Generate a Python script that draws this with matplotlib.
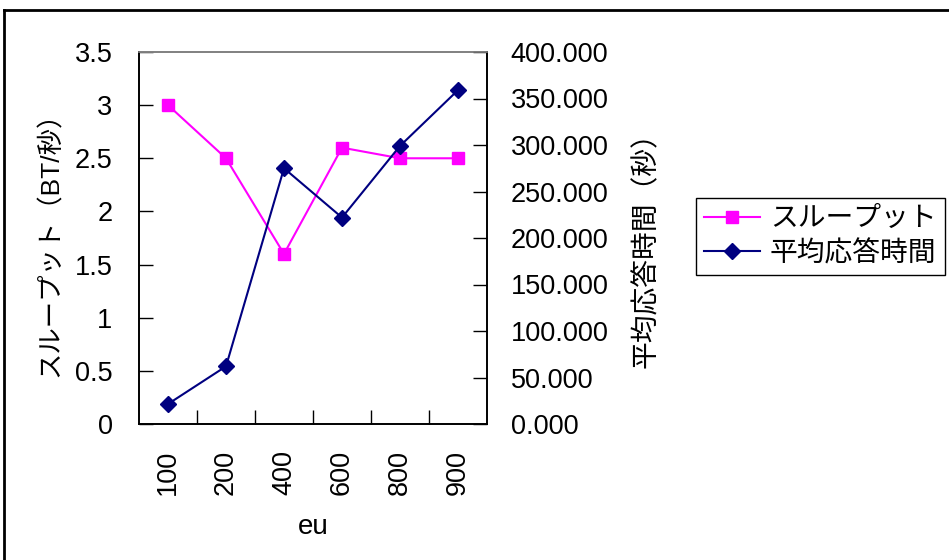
import matplotlib
matplotlib.use('Agg')
import matplotlib.pyplot as plt
from matplotlib.lines import Line2D
from matplotlib.ticker import FixedLocator, NullFormatter, FormatStrFormatter

plt.rcParams['font.family'] = ['Liberation Sans', 'Noto Sans CJK JP', 'DejaVu Sans']

# measurements per eu setting
eu_labels = ['100', '200', '400', '600', '800', '900']
throughput = [3.0, 2.5, 1.6, 2.6, 2.5, 2.5]          # BT/sec
resp_time = [21.5, 62.0, 275.0, 222.0, 299.0, 359.0]  # sec

W, H = 949, 560
fig = plt.figure(figsize=(W / 100, H / 100), dpi=100)

# outer chart frame (left and top edges visible)
fig.add_artist(Line2D([4 / W, 4 / W], [0, 1 - 10 / H], transform=fig.transFigure,
                      color='black', lw=2))
fig.add_artist(Line2D([4 / W, 1], [1 - 10 / H, 1 - 10 / H], transform=fig.transFigure,
                      color='black', lw=2))

ax = fig.add_axes([139 / W, 1 - 424 / H, (487 - 139) / W, (424 - 52) / H])
ax2 = ax.twinx()

x = list(range(len(eu_labels)))
l1, = ax.plot(x, throughput, color='#FF00FF', lw=1.5, marker='s', markersize=9,
              label='スループット')
l2, = ax2.plot(x, resp_time, color='#000080', lw=1.5, marker='D', markersize=8,
               label='平均応答時間')

ax.set_xlim(-0.5, len(eu_labels) - 0.5)
ax.set_ylim(0, 3.5)
ax2.set_ylim(0, 400)

ax.set_yticks([i * 0.5 for i in range(8)])
ax.set_yticklabels(['0', '0.5', '1', '1.5', '2', '2.5', '3', '3.5'])
ax2.set_yticks(range(0, 401, 50))
ax2.yaxis.set_major_formatter(FormatStrFormatter('%.3f'))

# category boundary ticks, labels at centres
ax.xaxis.set_major_locator(FixedLocator([i + 0.5 for i in range(len(eu_labels) - 1)]))
ax.xaxis.set_major_formatter(NullFormatter())
ax.xaxis.set_minor_locator(FixedLocator(x))
ax.set_xticklabels(eu_labels, minor=True, rotation=90, fontsize=19.5)
ax.tick_params(axis='x', which='minor', length=0, pad=18.5)
ax.tick_params(axis='x', which='major', direction='in', length=10, width=1)

ax.tick_params(axis='y', direction='in', length=10, width=1, labelsize=19.5, pad=19)
ax2.tick_params(axis='y', direction='in', length=10, width=1, labelsize=19.5, pad=17)

for a in (ax, ax2):
    for s in a.spines.values():
        s.set_linewidth(1.2)
        s.set_color('black')
    a.spines['top'].set_color('#808080')

ax.set_xlabel('eu', fontsize=20, labelpad=14)

# axis titles
fig.text(50 / W, 1 - 238 / H, 'スループット（BT/秒）', rotation=90, fontsize=19,
         ha='center', va='center')
fig.text(647 / W, 1 - 243 / H, '平均応答時間（秒）', rotation=90, fontsize=20,
         ha='center', va='center')

fig.legend(handles=[l1, l2], loc='upper left', bbox_to_anchor=(696 / W, 1 - 198 / H),
           fontsize=20, frameon=True, fancybox=False, edgecolor='black', framealpha=1,
           handlelength=2.0, borderpad=0.3, labelspacing=0.3, handletextpad=0.36,
           borderaxespad=0)

fig.savefig('out.png', dpi=100)
